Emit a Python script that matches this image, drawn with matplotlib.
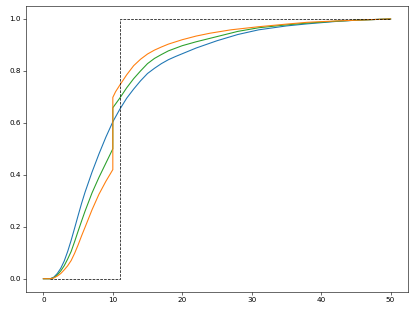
import matplotlib
matplotlib.use("Agg")
import matplotlib.pyplot as plt

# values
x_blue = [0, 1, 1.5, 2, 2.5, 3, 3.5, 4, 4.5, 5, 5.5, 6, 7, 8, 9, 10, 11, 12,
          13, 14, 15, 16, 17, 18, 19, 20, 22, 25, 28, 31, 35, 38, 42, 45, 50]
y_blue = [0.0, 0.0, 0.006, 0.02, 0.04, 0.068, 0.105, 0.148, 0.195, 0.243,
          0.29, 0.333, 0.41, 0.48, 0.545, 0.604, 0.652, 0.695, 0.73, 0.762,
          0.79, 0.81, 0.828, 0.843, 0.855, 0.866, 0.888, 0.916, 0.94, 0.958,
          0.973, 0.981, 0.99, 0.995, 1.0]

x_green = [0, 1, 1.5, 2, 2.5, 3, 3.5, 4, 4.5, 5, 5.5, 6, 7, 8, 9, 10, 10, 11,
           12, 13, 14, 15, 16, 17, 18, 20, 22, 25, 28, 31, 35, 38, 42, 45, 50]
y_green = [0.0, 0.0, 0.004, 0.014, 0.03, 0.05, 0.076, 0.105, 0.143, 0.183,
           0.222, 0.26, 0.33, 0.39, 0.445, 0.50, 0.658, 0.695, 0.735, 0.77,
           0.80, 0.828, 0.848, 0.863, 0.877, 0.897, 0.912, 0.932, 0.952,
           0.966, 0.977, 0.984, 0.991, 0.995, 1.0]

x_orange = [0, 1, 1.5, 2, 2.5, 3, 3.5, 4, 4.5, 5, 5.5, 6, 7, 8, 9, 10, 10,
            10.4, 11, 12, 13, 14, 15, 16, 17, 18, 20, 22, 24, 27, 31, 35, 38,
            42, 45, 50]
y_orange = [0.0, 0.0, 0.003, 0.01, 0.02, 0.034, 0.05, 0.07, 0.098, 0.13,
            0.165, 0.198, 0.265, 0.325, 0.375, 0.42, 0.698, 0.72, 0.745,
            0.785, 0.82, 0.845, 0.865, 0.88, 0.892, 0.903, 0.92, 0.934, 0.945,
            0.958, 0.97, 0.98, 0.987, 0.992, 0.995, 1.0]

x_step = [1, 11, 11, 50]
y_step = [0, 0, 1, 1]

fig = plt.figure(figsize=(415 / 52, 6), dpi=52)
ax = fig.add_axes([0.0627, 0.065, 0.9203, 0.916])

ax.plot(x_blue, y_blue, color="C0")
ax.plot(x_green, y_green, color="C2")
ax.plot(x_orange, y_orange, color="C1")
ax.plot(x_step, y_step, "k--", linewidth=1)

fig.savefig("out.png", dpi=52)
